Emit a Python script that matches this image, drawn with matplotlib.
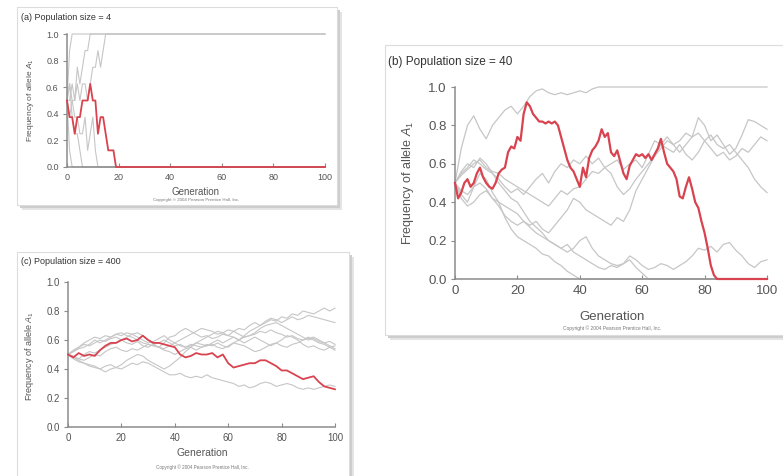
import numpy as np
import matplotlib
matplotlib.use('Agg')
from matplotlib import pyplot as plt
from matplotlib.patches import Rectangle

W, H = 783, 476

# shared axis ticks
x_ticks = [0, 20, 40, 60, 80, 100]
y_ticks = [0.0, 0.2, 0.4, 0.6, 0.8, 1.0]

# (a) population size = 4, each line has its own generations
red_a_gens = [0, 1, 2, 3, 4, 5, 6, 7, 8, 9, 10, 11, 12, 13, 14, 15, 16, 17, 18, 19, 100]
red_a = [0.5, 0.375, 0.375, 0.25, 0.375, 0.375, 0.5, 0.5, 0.5, 0.625, 0.5,
	0.5, 0.25, 0.375, 0.375, 0.25, 0.125, 0.125, 0.125, 0.0, 0.0]
gray_a_gens = [
	[0, 1, 2, 100],
	[0, 1, 2, 100],
	[0, 1, 2, 3, 4, 5, 6, 100],
	[0, 1, 2, 3, 4, 5, 6, 7, 8, 9, 100],
	[0, 1, 2, 3, 4, 5, 6, 7, 8, 9, 10, 11, 12, 13, 14, 15, 100],
	[0, 1, 2, 3, 4, 5, 6, 7, 8, 9, 10, 11, 12, 100],
]
gray_a = [
	[0.5, 0.875, 1.0, 1.0],
	[0.5, 0.125, 0.0, 0.0],
	[0.5, 0.625, 0.375, 0.25, 0.25, 0.125, 0.0, 0.0],
	[0.5, 0.5, 0.625, 0.5, 0.75, 0.625, 0.75, 0.875, 0.875, 1.0, 1.0],
	[0.5, 0.375, 0.5, 0.5, 0.625, 0.5, 0.625, 0.625, 0.5, 0.625, 0.75, 0.75, 0.875, 0.75, 0.875, 1.0, 1.0],
	[0.5, 0.625, 0.5, 0.375, 0.375, 0.25, 0.25, 0.375, 0.125, 0.25, 0.375, 0.125, 0.0, 0.0],
]

# (b) population size = 40
red_b_gens = list(range(0, 101))
red_b = [
	0.50, 0.42, 0.45, 0.50, 0.52, 0.48, 0.50, 0.55, 0.58, 0.53,
	0.50, 0.48, 0.47, 0.50, 0.55, 0.57, 0.58, 0.66, 0.69, 0.68,
	0.74, 0.72, 0.86, 0.92, 0.90, 0.86, 0.84, 0.82, 0.82, 0.81,
	0.82, 0.81, 0.82, 0.80, 0.74, 0.68, 0.62, 0.58, 0.56, 0.52,
	0.48, 0.58, 0.53, 0.63, 0.67, 0.69, 0.72, 0.78, 0.74, 0.76,
	0.66, 0.64, 0.67, 0.61, 0.55, 0.52, 0.59, 0.62, 0.65, 0.64,
	0.65, 0.63, 0.65, 0.62, 0.65, 0.68, 0.73, 0.66, 0.60, 0.58,
	0.56, 0.52, 0.43, 0.42, 0.48, 0.53, 0.47, 0.40, 0.37, 0.30,
	0.24, 0.16, 0.07, 0.02, 0, 0, 0, 0, 0, 0,
	0, 0, 0, 0, 0, 0, 0, 0, 0, 0,
	0,
]
gens_b = list(range(0, 101, 2))
gray_b = [
	[0.50, 0.68, 0.80, 0.85, 0.78, 0.73, 0.80, 0.84, 0.88, 0.90,
	 0.86, 0.90, 0.95, 0.98, 0.99, 0.97, 0.96, 0.97, 0.96, 0.97,
	 0.98, 0.97, 0.99, 1, 1, 1, 1, 1, 1, 1,
	 1, 1, 1, 1, 1, 1, 1, 1, 1, 1,
	 1, 1, 1, 1, 1, 1, 1, 1, 1, 1,
	 1],
	[0.50, 0.56, 0.60, 0.58, 0.63, 0.60, 0.55, 0.52, 0.48, 0.45,
	 0.47, 0.44, 0.48, 0.52, 0.55, 0.50, 0.56, 0.60, 0.58, 0.62,
	 0.60, 0.64, 0.60, 0.63, 0.58, 0.60, 0.62, 0.57, 0.60, 0.62,
	 0.58, 0.65, 0.72, 0.70, 0.74, 0.70, 0.72, 0.76, 0.74, 0.84,
	 0.80, 0.72, 0.75, 0.70, 0.65, 0.68, 0.75, 0.83, 0.82, 0.80,
	 0.78],
	[0.50, 0.54, 0.57, 0.60, 0.62, 0.58, 0.56, 0.55, 0.52, 0.50,
	 0.48, 0.46, 0.44, 0.42, 0.40, 0.38, 0.42, 0.46, 0.44, 0.47,
	 0.48, 0.52, 0.56, 0.55, 0.58, 0.55, 0.48, 0.44, 0.47, 0.52,
	 0.56, 0.60, 0.64, 0.68, 0.72, 0.70, 0.66, 0.70, 0.74, 0.76,
	 0.72, 0.75, 0.70, 0.68, 0.70, 0.66, 0.62, 0.58, 0.52, 0.48,
	 0.45],
	[0.50, 0.42, 0.38, 0.40, 0.44, 0.46, 0.42, 0.40, 0.38, 0.36,
	 0.34, 0.30, 0.28, 0.30, 0.26, 0.24, 0.28, 0.32, 0.36, 0.42,
	 0.40, 0.36, 0.34, 0.32, 0.30, 0.28, 0.32, 0.30, 0.36, 0.46,
	 0.52, 0.58, 0.64, 0.70, 0.68, 0.66, 0.70, 0.65, 0.62, 0.66,
	 0.72, 0.68, 0.64, 0.66, 0.62, 0.64, 0.68, 0.66, 0.70, 0.74,
	 0.72],
	[0.50, 0.46, 0.44, 0.48, 0.50, 0.47, 0.42, 0.38, 0.33, 0.30,
	 0.28, 0.30, 0.27, 0.24, 0.22, 0.20, 0.18, 0.16, 0.18, 0.14,
	 0.12, 0.10, 0.08, 0.06, 0.05, 0.07, 0.06, 0.08, 0.12, 0.10,
	 0.07, 0.05, 0.06, 0.08, 0.07, 0.05, 0.07, 0.09, 0.12, 0.16,
	 0.15, 0.17, 0.14, 0.18, 0.19, 0.15, 0.12, 0.08, 0.06, 0.09,
	 0.10],
	[0.50, 0.44, 0.40, 0.48, 0.55, 0.52, 0.45, 0.40, 0.32, 0.26,
	 0.22, 0.20, 0.18, 0.16, 0.13, 0.12, 0.09, 0.07, 0.04, 0.02,
	 0, 0, 0, 0, 0, 0, 0, 0, 0, 0,
	 0, 0, 0, 0, 0, 0, 0, 0, 0, 0,
	 0, 0, 0, 0, 0, 0, 0, 0, 0, 0,
	 0],
	[0.50, 0.55, 0.58, 0.62, 0.60, 0.57, 0.55, 0.50, 0.46, 0.42,
	 0.40, 0.35, 0.30, 0.27, 0.24, 0.20, 0.18, 0.16, 0.14, 0.16,
	 0.20, 0.22, 0.16, 0.12, 0.10, 0.08, 0.07, 0.08, 0.10, 0.06,
	 0.03, 0, 0, 0, 0, 0, 0, 0, 0, 0,
	 0, 0, 0, 0, 0, 0, 0, 0, 0, 0,
	 0],
]

# (c) population size = 400
gens_c = list(range(0, 101, 2))
red_c = [
	0.50, 0.48, 0.51, 0.49, 0.50, 0.49, 0.53, 0.56, 0.58, 0.58,
	0.60, 0.61, 0.59, 0.60, 0.63, 0.60, 0.58, 0.58, 0.57, 0.56,
	0.55, 0.50, 0.48, 0.49, 0.51, 0.50, 0.50, 0.51, 0.48, 0.50,
	0.44, 0.41, 0.42, 0.43, 0.44, 0.44, 0.46, 0.46, 0.44, 0.42,
	0.39, 0.39, 0.37, 0.35, 0.33, 0.34, 0.35, 0.31, 0.28, 0.27,
	0.26,
]
gray_c = [
	[0.50, 0.52, 0.55, 0.57, 0.56, 0.58, 0.60, 0.59, 0.61, 0.62,
	 0.60, 0.58, 0.57, 0.59, 0.56, 0.55, 0.57, 0.58, 0.60, 0.58,
	 0.56, 0.57, 0.55, 0.56, 0.58, 0.57, 0.56, 0.58, 0.60, 0.58,
	 0.60, 0.62, 0.60, 0.63, 0.66, 0.68, 0.70, 0.72, 0.74, 0.73,
	 0.76, 0.75, 0.78, 0.77, 0.80, 0.79, 0.78, 0.80, 0.82, 0.80,
	 0.82],
	[0.50, 0.53, 0.55, 0.58, 0.60, 0.62, 0.61, 0.63, 0.62, 0.64,
	 0.65, 0.63, 0.62, 0.60, 0.58, 0.57, 0.56, 0.55, 0.58, 0.62,
	 0.63, 0.66, 0.68, 0.66, 0.64, 0.62, 0.63, 0.61, 0.62, 0.64,
	 0.63, 0.66, 0.68, 0.67, 0.70, 0.72, 0.70, 0.73, 0.75, 0.74,
	 0.72, 0.74, 0.76, 0.74, 0.75, 0.77, 0.76, 0.75, 0.74, 0.73,
	 0.72],
	[0.50, 0.52, 0.54, 0.55, 0.57, 0.60, 0.58, 0.60, 0.62, 0.64,
	 0.63, 0.65, 0.64, 0.62, 0.60, 0.58, 0.59, 0.61, 0.63, 0.60,
	 0.58, 0.56, 0.55, 0.57, 0.56, 0.55, 0.57, 0.56, 0.58, 0.56,
	 0.55, 0.58, 0.60, 0.62, 0.63, 0.64, 0.66, 0.65, 0.67, 0.65,
	 0.64, 0.62, 0.63, 0.61, 0.60, 0.61, 0.62, 0.60, 0.58, 0.59,
	 0.57],
	[0.50, 0.49, 0.47, 0.50, 0.52, 0.51, 0.53, 0.55, 0.57, 0.58,
	 0.60, 0.62, 0.64, 0.65, 0.63, 0.60, 0.57, 0.55, 0.54, 0.56,
	 0.58, 0.60, 0.62, 0.64, 0.66, 0.68, 0.67, 0.66, 0.64, 0.65,
	 0.63, 0.62, 0.60, 0.58, 0.60, 0.62, 0.60, 0.58, 0.56, 0.58,
	 0.60, 0.63, 0.62, 0.60, 0.57, 0.55, 0.56, 0.54, 0.53, 0.55,
	 0.53],
	[0.50, 0.48, 0.47, 0.46, 0.48, 0.50, 0.49, 0.52, 0.54, 0.55,
	 0.53, 0.52, 0.54, 0.53, 0.55, 0.57, 0.56, 0.55, 0.53, 0.52,
	 0.50, 0.52, 0.54, 0.55, 0.53, 0.55, 0.56, 0.57, 0.55, 0.54,
	 0.56, 0.58, 0.57, 0.56, 0.54, 0.52, 0.53, 0.55, 0.57, 0.58,
	 0.56, 0.55, 0.57, 0.58, 0.60, 0.62, 0.60, 0.58, 0.57, 0.55,
	 0.56],
	[0.50, 0.47, 0.45, 0.44, 0.42, 0.41, 0.40, 0.42, 0.43, 0.41,
	 0.40, 0.42, 0.44, 0.43, 0.45, 0.44, 0.42, 0.40, 0.38, 0.36,
	 0.36, 0.37, 0.35, 0.34, 0.35, 0.34, 0.36, 0.34, 0.33, 0.32,
	 0.31, 0.30, 0.28, 0.29, 0.27, 0.28, 0.30, 0.31, 0.30, 0.28,
	 0.29, 0.30, 0.29, 0.27, 0.26, 0.27, 0.26, 0.27, 0.28, 0.29,
	 0.28],
	[0.50, 0.48, 0.46, 0.44, 0.43, 0.42, 0.40, 0.38, 0.40, 0.41,
	 0.43, 0.46, 0.48, 0.50, 0.49, 0.46, 0.44, 0.42, 0.40, 0.42,
	 0.45, 0.48, 0.52, 0.55, 0.58, 0.60, 0.62, 0.64, 0.66, 0.65,
	 0.67, 0.66, 0.64, 0.62, 0.63, 0.65, 0.68, 0.70, 0.71, 0.72,
	 0.70, 0.68, 0.66, 0.64, 0.62, 0.60, 0.61, 0.59, 0.58, 0.56,
	 0.54],
]

RED = '#d8434f'
GRAY = '#c6c6c6'
SPINE = '#8c8c8c'
TXT = '#555555'
COPYRIGHT = 'Copyright \u00a9 2004 Pearson Prentice Hall, Inc.'

plt.rcParams['font.family'] = ['Liberation Sans', 'DejaVu Sans']
plt.rcParams['mathtext.fontset'] = 'custom'
plt.rcParams['mathtext.it'] = 'Liberation Sans:italic'
plt.rcParams['mathtext.rm'] = 'Liberation Sans'


def fx(px):
	return px / W


def fy(py):
	return 1 - py / H


def card(fig, x0, y0, x1, y1):
	# soft drop shadow, then the white card on top
	for off, col in [(5, '#e4e4e4'), (3, '#cdcdcd')]:
		fig.add_artist(Rectangle((fx(x0 + off), fy(y1 + off)), fx(x1 - x0), (y1 - y0) / H,
			transform=fig.transFigure, facecolor=col, edgecolor='none', zorder=-3))
	fig.add_artist(Rectangle((fx(x0), fy(y1)), fx(x1 - x0), (y1 - y0) / H,
		transform=fig.transFigure, facecolor='white', edgecolor='#dcdcdc', lw=0.8, zorder=-2))


def panel(fig, box, gray_gens, grays, red_gens, red, fs, lw_g, lw_r):
	# box = pixel positions of x=0, x=100, y=1.0, y=0.0
	left, right, top, bottom = box
	ax = fig.add_axes([fx(left), fy(bottom), (right - left) / W, (bottom - top) / H])
	ax.set_facecolor('none')
	for gg, vals in zip(gray_gens, grays):
		ax.plot(gg, vals, color=GRAY, lw=lw_g, clip_on=False, solid_joinstyle='round')
	ax.plot(red_gens, red, color=RED, lw=lw_r, clip_on=False, solid_joinstyle='round', zorder=5)
	ax.set_xlim(0, 100)
	ax.set_ylim(0, 1)
	ax.set_xticks(x_ticks)
	ax.set_yticks(y_ticks)
	ax.set_xticklabels([str(t) for t in x_ticks])
	ax.set_yticklabels(['%.1f' % t for t in y_ticks])
	for s in ['top', 'right']:
		ax.spines[s].set_visible(False)
	for s in ['left', 'bottom']:
		ax.spines[s].set_color(SPINE)
		ax.spines[s].set_linewidth(1.1)
	ax.tick_params(axis='y', direction='out', length=3, width=0.8, color=SPINE,
		labelsize=fs, labelcolor=TXT, pad=3)
	ax.tick_params(axis='x', direction='in', length=3, width=0.8, color=SPINE,
		labelsize=fs, labelcolor=TXT, pad=4)
	return ax


fig = plt.figure(figsize=(W / 100, H / 100), dpi=100)
fig.patch.set_facecolor('white')

# cards
card(fig, 17, 7, 337, 205)
card(fig, 385, 45, 790, 335)
card(fig, 17, 252, 349, 485)

# (a)
panel(fig, (67, 325, 34, 167), gray_a_gens, gray_a, red_a_gens, red_a, 6.5, 0.8, 1.3)
fig.text(fx(21), fy(17), '(a) Population size = 4', fontsize=6.5, color='#333333', va='center')
fig.text(fx(31), fy(100), r'Frequency of allele $A_1$', fontsize=6, color=TXT,
	rotation=90, ha='center', va='center')
fig.text(fx(196), fy(192), 'Generation', fontsize=7, color=TXT, ha='center', va='center')
fig.text(fx(196), fy(200), COPYRIGHT, fontsize=3.2, color='#777777', ha='center', va='center')

# (b)
panel(fig, (455, 767, 87, 279), [gens_b] * len(gray_b), gray_b, red_b_gens, red_b, 9.5, 0.9, 1.6)
fig.text(fx(388), fy(62), '(b) Population size = 40', fontsize=8.5, color='#333333', va='center')
fig.text(fx(408), fy(183), r'Frequency of allele $A_1$', fontsize=9, color=TXT,
	rotation=90, ha='center', va='center')
fig.text(fx(612), fy(317), 'Generation', fontsize=9.5, color=TXT, ha='center', va='center')
fig.text(fx(612), fy(328), COPYRIGHT, fontsize=3.5, color='#777777', ha='center', va='center')

# (c)
panel(fig, (68, 335, 282, 427), [gens_c] * len(gray_c), gray_c, gens_c, red_c, 7, 0.8, 1.3)
fig.text(fx(21), fy(262), '(c) Population size = 400', fontsize=6.5, color='#333333', va='center')
fig.text(fx(30), fy(356), r'Frequency of allele $A_1$', fontsize=6.5, color=TXT,
	rotation=90, ha='center', va='center')
fig.text(fx(202), fy(453), 'Generation', fontsize=7.5, color=TXT, ha='center', va='center')
fig.text(fx(202), fy(467), COPYRIGHT, fontsize=3.3, color='#777777', ha='center', va='center')

fig.savefig('out.png', dpi=100, facecolor='white')
